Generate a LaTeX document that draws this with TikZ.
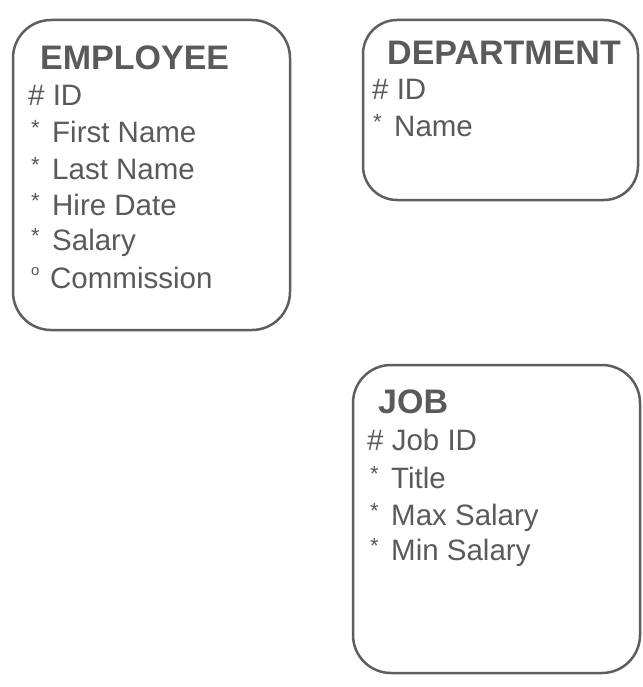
\documentclass[tikz,border=0pt]{standalone}
\usepackage{fontspec}
\setmainfont{Liberation Sans}
\definecolor{txt}{HTML}{5A5A5A}
\definecolor{edge}{HTML}{5E5E5E}
\newcommand{\mand}{\makebox[24pt][l]{\hspace{3pt}\raisebox{7pt}{\fontsize{22}{22}\selectfont *}}}
\newcommand{\opt}{\makebox[22pt][l]{\hspace{3pt}\raisebox{13pt}{\fontsize{15}{15}\selectfont o}}}
\begin{document}
\begin{tikzpicture}[x=1pt,y=-1pt,
  entity/.style={draw=edge, line width=2.5pt, rounded corners=38pt, inner sep=0pt},
  ttl/.style={anchor=base west, inner sep=0pt, text=txt, font=\fontsize{34}{34}\selectfont\bfseries},
  attr/.style={anchor=base west, inner sep=0pt, text=txt, font=\fontsize{29.5}{29.5}\selectfont}]
\useasboundingbox[fill=white] (0,0) rectangle (642,687);
% boxes
\node[entity, minimum width=277pt, minimum height=310pt] (emp) at (151.5,175) {};
\node[entity, minimum width=275pt, minimum height=180pt, rounded corners=34pt] (dep) at (500.5,110) {};
\node[entity, minimum width=287pt, minimum height=308pt] (job) at (496.5,519) {};
% EMPLOYEE
\node[ttl] (empt) at (40,70) {EMPLOYEE};
\node[attr] (e1) at (28,106) {\# ID};
\node[attr] (e2) at (28,143) {\mand First Name};
\node[attr] (e3) at (28,179) {\mand Last Name};
\node[attr] (e4) at (28,215) {\mand Hire Date};
\node[attr] (e5) at (28,250) {\mand Salary};
\node[attr] (e6) at (28,288) {\opt Commission};
% DEPARTMENT
\node[ttl] (dept) at (387,65) {DEPARTMENT};
\node[attr] (d1) at (372,100) {\# ID};
\node[attr] (d2) at (370,137) {\mand Name};
% JOB
\node[ttl] (jobt) at (378,413) {JOB};
\node[attr] (j1) at (367,450) {\# Job ID};
\node[attr] (j2) at (367,488) {\mand Title};
\node[attr] (j3) at (367,525) {\mand Max Salary};
\node[attr] (j4) at (367,560) {\mand Min Salary};
\end{tikzpicture}
\end{document}
